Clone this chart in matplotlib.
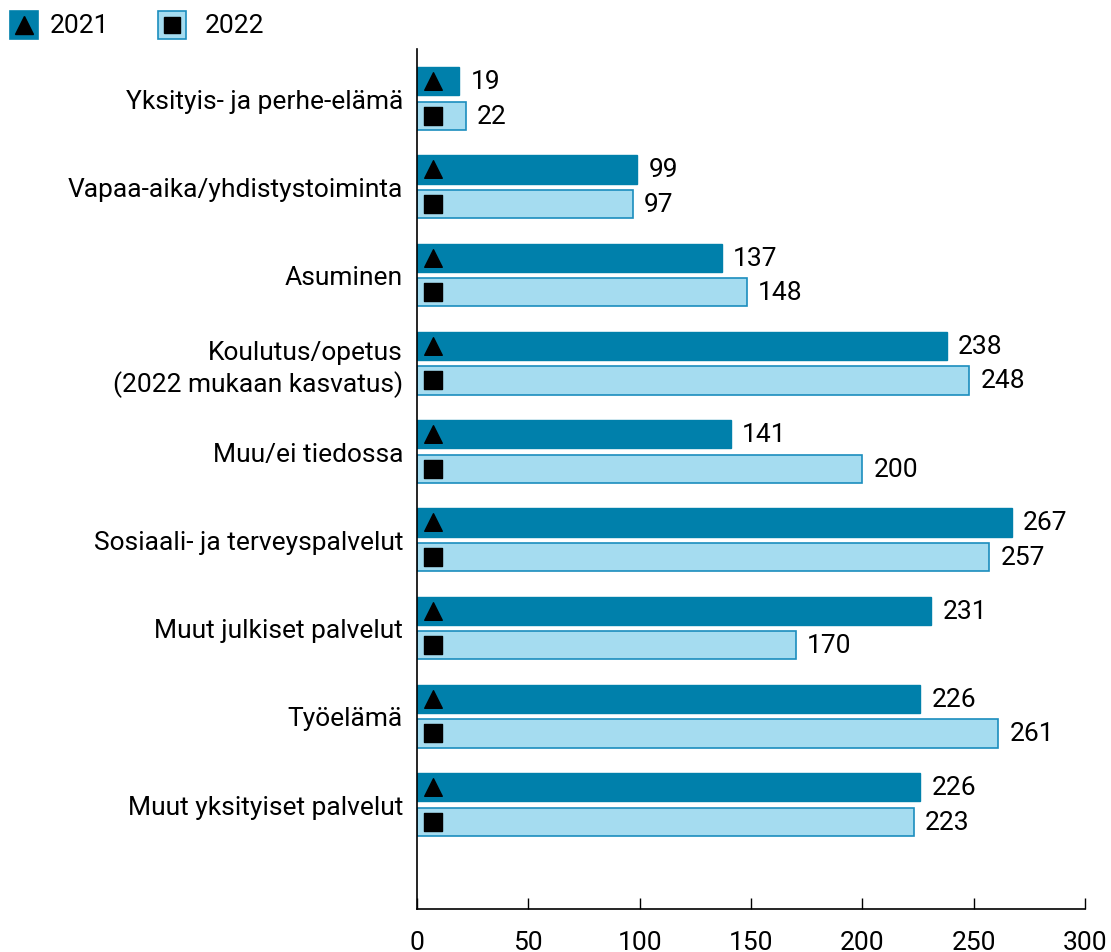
import numpy as np
import matplotlib.pyplot as plt
from matplotlib.patches import Rectangle

plt.rcParams['font.family'] = ['Roboto', 'DejaVu Sans']

categories = ['Yksityis- ja perhe-elämä', 'Vapaa-aika/yhdistystoiminta', 'Asuminen',
              'Koulutus/opetus\n(2022 mukaan kasvatus)', 'Muu/ei tiedossa',
              'Sosiaali- ja terveyspalvelut', 'Muut julkiset palvelut', 'Työelämä',
              'Muut yksityiset palvelut']
v2021 = [19, 99, 137, 238, 141, 267, 231, 226, 226]
v2022 = [22, 97, 148, 248, 200, 257, 170, 261, 223]

c21 = '#0080AB'
c22 = '#A5DCF0'
e22 = '#1B8DBE'
fs = 19

fig = plt.figure(figsize=(11.11, 9.53), dpi=100)
ax = fig.add_axes([0.3753, 0.0451, 0.6013, 0.9024])

y = np.arange(len(categories))
h = 0.32
ax.barh(y - 0.19, v2021, height=h, color=c21, edgecolor=c21, linewidth=1)
ax.barh(y + 0.2, v2022, height=h, color=c22, edgecolor=e22, linewidth=1.2)

# markers inside bars
ax.scatter([7] * len(y), y - 0.19, marker='^', s=160, color='black', zorder=3)
ax.scatter([7] * len(y), y + 0.2, marker='s', s=150, color='black', zorder=3)

for i in range(len(y)):
    ax.text(v2021[i] + 5, y[i] - 0.19, str(v2021[i]), va='center', ha='left', fontsize=fs)
    ax.text(v2022[i] + 5, y[i] + 0.2, str(v2022[i]), va='center', ha='left', fontsize=fs)

ax.set_yticks(y)
ax.set_yticklabels(categories, fontsize=fs, linespacing=1.3)
ax.tick_params(axis='y', length=0, pad=10)
ax.set_xlim(0, 300)
ax.set_ylim(9.19, -0.555)
ax.set_xticks(range(0, 301, 50))
ax.tick_params(axis='x', direction='in', length=8, width=1, labelsize=fs, pad=15)
for s in ['top', 'right']:
    ax.spines[s].set_visible(False)
ax.spines['left'].set_linewidth(1.2)
ax.spines['bottom'].set_linewidth(1.2)

# legend
W, H = 1111, 953
def legpatch(x0, fc, ec, marker, label, tx):
    r = Rectangle((x0 / W, 1 - 40 / H), 28 / W, 28 / H, transform=fig.transFigure,
                  facecolor=fc, edgecolor=ec, linewidth=1.2)
    fig.add_artist(r)
    fig.add_artist(plt.Line2D([(x0 + 14) / W], [1 - 26 / H], marker=marker, color='black',
                              markersize=13 if marker == '^' else 12, transform=fig.transFigure))
    fig.text(tx / W, 1 - 26 / H, label, fontsize=fs, va='center', ha='left')

legpatch(10, c21, c21, '^', '2021', 50)
legpatch(158, c22, e22, 's', '2022', 205)

fig.savefig('out.png', dpi=100)
